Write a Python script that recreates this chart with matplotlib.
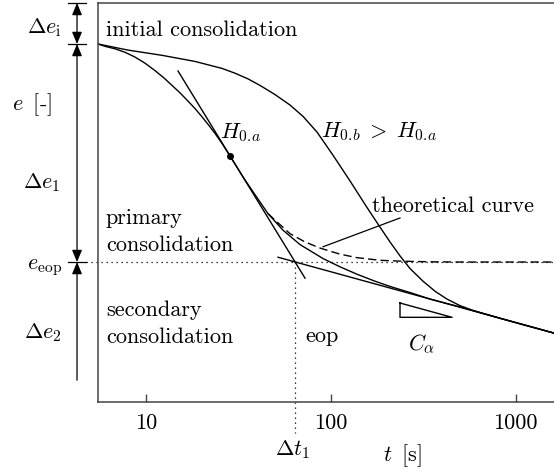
import numpy as np
import matplotlib
matplotlib.use("Agg")
import matplotlib.pyplot as plt
from matplotlib.transforms import blended_transform_factory

plt.rcParams["font.family"] = "serif"
plt.rcParams["font.serif"] = ["cmr10"]
plt.rcParams["mathtext.fontset"] = "cm"
plt.rcParams["axes.formatter.use_mathtext"] = True

# consolidation curve, thin specimen (H_0.a)
t_a = [5.525, 6.105, 6.828, 7.732, 8.757, 9.917, 11.23, 12.57, 13.88, 15.33, 16.93,
       18.48, 20.16, 21.99, 23.70, 25.86, 28.56, 33.59, 39.48, 45.84, 55.25, 68.28,
       90.9, 112.3, 138.8, 173.6, 209.3, 268.5, 344.4, 500.1, 822.9, 1611]
e_a = [1.0, 0.994, 0.989, 0.981, 0.970, 0.956, 0.939, 0.922, 0.905, 0.888, 0.869,
       0.852, 0.833, 0.813, 0.795, 0.772, 0.743, 0.695, 0.651, 0.611, 0.573, 0.540,
       0.508, 0.489, 0.472, 0.456, 0.444, 0.430, 0.415, 0.397, 0.371, 0.337]

# thicker specimen (H_0.b > H_0.a)
t_b = [5.525, 8.03, 12.26, 18.48, 25.86, 30.40, 35.74, 41.50, 50.01, 60.28, 70.88,
       84.36, 102.9, 127.2, 157.2, 184.8, 209.3, 237.0, 268.5, 315.6, 366.4, 425.4,
       500.1, 588.0, 822.9, 1611]
e_b = [1.0, 0.986, 0.974, 0.960, 0.944, 0.933, 0.920, 0.905, 0.884, 0.860, 0.834,
       0.798, 0.745, 0.686, 0.625, 0.580, 0.546, 0.514, 0.485, 0.456, 0.433, 0.415,
       0.400, 0.389, 0.371, 0.337]

# theoretical branch
t_th = [45.84, 51.28, 60.28, 72.66, 87.55, 112.3, 138.8, 184.8, 237.0, 344.4, 500.1,
        1611]
e_th = [0.611, 0.592, 0.565, 0.546, 0.532, 0.518, 0.510, 0.504, 0.502, 0.5005, 0.500,
        0.500]

# tangent at the inflection point and secondary compression line
t_tan = [14.96, 72.66]
e_tan = [0.938, 0.463]
t_infl, e_infl = 28.56, 0.743
t_sec = [51.9, 1611]
e_sec = [0.511, 0.337]
C_alpha = (e_sec[0] - e_sec[1]) / np.log10(t_sec[1] / t_sec[0])

e_top, e0, e_eop, e_end = 1.094, 1.0, 0.5, 0.229
t_eop = 64.15
t_tri = [237.0, 453.0]
e_tri = 0.406

t_lim = (5.525, 1611)
e_lim = (0.179, 1.094)
x_ticks = [10, 100, 1000]
x_ticklabels = ["10", "100", "1000"]

fig = plt.figure(figsize=(5.54, 4.72), dpi=100)
ax = fig.add_axes([98 / 554, 70 / 472, 456 / 554, 399 / 472])
ax.set_xscale("log")
ax.set_xlim(*t_lim)
ax.set_ylim(*e_lim)

spine_col = "#444444"
for side in ["left", "top", "bottom"]:
    ax.spines[side].set_color(spine_col)
    ax.spines[side].set_linewidth(1.1)
ax.spines["right"].set_visible(False)

ax.set_xticks(x_ticks)
ax.set_xticklabels(x_ticklabels)
ax.xaxis.set_minor_locator(matplotlib.ticker.NullLocator())
ax.tick_params(axis="x", direction="in", length=6, width=1.0, color=spine_col,
               labelsize=16, pad=8)
ax.set_yticks([])

lw = 1.0
ax.plot(t_a, e_a, color="black", lw=lw)
ax.plot(t_b, e_b, color="black", lw=lw)
ax.plot(t_th, e_th, color="black", lw=lw, linestyle=(0, (6, 3)))
ax.plot(t_tan, e_tan, color="black", lw=lw)
ax.plot(t_sec, e_sec, color="black", lw=lw)
ax.plot([t_infl], [e_infl], "o", color="black", ms=4)

# C_alpha slope triangle
e_tri_lo = e_tri - C_alpha * np.log10(t_tri[1] / t_tri[0])
ax.plot([t_tri[0], t_tri[0], t_tri[1], t_tri[0]],
        [e_tri, e_tri_lo, e_tri_lo, e_tri], color="black", lw=lw)

# leader line for the theoretical curve label
ax.plot([90.9, 237.0], [0.535, 0.601], color="black", lw=0.9)

# end of primary consolidation
trans = blended_transform_factory(ax.transAxes, ax.transData)
ax.plot([-0.026, 1.0], [e_eop, e_eop], color="black", lw=0.9,
        linestyle=(0, (1, 3)), transform=trans, clip_on=False)
ax.plot([t_eop, t_eop], [e_eop, 0.108], color="black", lw=0.9,
        linestyle=(0, (1, 3)), clip_on=False)

# void ratio increments on the left
xa = -0.046
for e in [e_top, e0, e_eop]:
    ax.plot([-0.066, -0.026], [e, e], color="black", lw=0.9, transform=trans,
            clip_on=False)
arrow = dict(lw=0.9, color="black", shrinkA=0, shrinkB=0, mutation_scale=12)
both = "<|-|>,head_length=0.6,head_width=0.25"
ax.annotate("", xy=(xa, e0), xytext=(xa, e_top), xycoords=trans, textcoords=trans,
            arrowprops=dict(arrowstyle=both, **arrow))
ax.annotate("", xy=(xa, e_eop), xytext=(xa, e0), xycoords=trans, textcoords=trans,
            arrowprops=dict(arrowstyle=both, **arrow))
ax.annotate("", xy=(xa, e_eop), xytext=(xa, e_end), xycoords=trans, textcoords=trans,
            arrowprops=dict(arrowstyle="-|>,head_length=0.6,head_width=0.25", **arrow))

fs = 16
ta = ax.transAxes
ax.text(0.0175, 0.917, "initial consolidation", fontsize=fs, transform=ta, va="baseline")
ax.text(0.0175, 0.446, "primary", fontsize=fs, transform=ta, va="baseline")
ax.text(0.0175, 0.378, "consolidation", fontsize=fs, transform=ta, va="baseline")
ax.text(0.0175, 0.2155, "secondary", fontsize=fs, transform=ta, va="baseline")
ax.text(0.0175, 0.148, "consolidation", fontsize=fs, transform=ta, va="baseline")
ax.text(0.454, 0.150, "eop", fontsize=fs, transform=ta, va="baseline")
ax.text(0.680, 0.130, r"$C_\alpha$", fontsize=fs, transform=ta, va="baseline")
ax.text(0.268, 0.662, r"$H_{0.\!a}$", fontsize=fs, transform=ta, va="baseline")
ax.text(0.489, 0.664, r"$H_{0.\!b}\;>\;H_{0.\!a}$", fontsize=fs, transform=ta,
        va="baseline")
ax.text(0.601, 0.476, "theoretical curve", fontsize=fs, transform=ta, va="baseline")
ax.text(0.4276, -0.133, r"$\Delta t_1$", fontsize=fs, transform=ta, va="baseline",
        ha="center")
ax.text(0.625, -0.148, r"$t\,$ [s]", fontsize=fs, transform=ta, va="baseline")

ax.text(-0.079, 0.925, r"$\Delta e_\mathrm{i}$", fontsize=fs, transform=ta,
        va="baseline", ha="right")
ax.text(-0.101, 0.732, r"$e\,$ [-]", fontsize=fs, transform=ta, va="baseline",
        ha="right")
ax.text(-0.083, 0.536, r"$\Delta e_1$", fontsize=fs, transform=ta, va="baseline",
        ha="right")
ax.text(-0.079, 0.333, r"$e_\mathrm{eop}$", fontsize=fs, transform=ta, va="baseline",
        ha="right")
ax.text(-0.079, 0.160, r"$\Delta e_2$", fontsize=fs, transform=ta, va="baseline",
        ha="right")

fig.savefig("out.png", dpi=100)
